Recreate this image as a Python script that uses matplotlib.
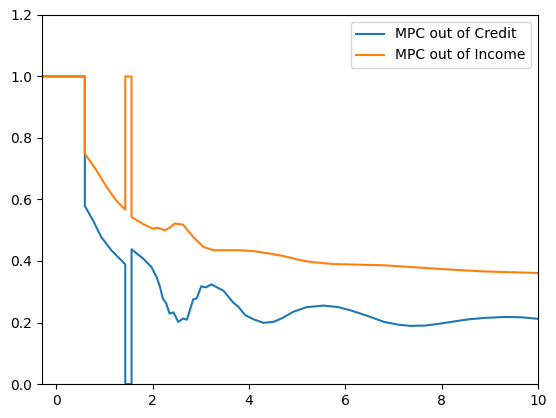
import matplotlib
matplotlib.use("Agg")
import matplotlib.pyplot as plt

# MPC out of credit (blue)
credit_x = [-0.3, 0.59, 0.59, 0.76, 0.93, 1.14, 1.43, 1.43, 1.56, 1.56, 1.80, 1.97,
            2.08, 2.15, 2.21, 2.28, 2.35, 2.43, 2.53, 2.63, 2.71, 2.84, 2.91, 3.01,
            3.10, 3.22, 3.47, 3.67, 3.78, 3.92, 4.10, 4.30, 4.51, 4.70, 4.92, 5.20,
            5.55, 5.85, 6.10, 6.45, 6.80, 7.10, 7.35, 7.65, 7.91, 8.20, 8.54, 8.90,
            9.30, 9.65, 10.0]
credit_y = [1.0, 1.0, 0.579, 0.532, 0.478, 0.435, 0.389, 0.0, 0.0, 0.438, 0.408, 0.381,
            0.348, 0.316, 0.278, 0.262, 0.229, 0.233, 0.202, 0.213, 0.209, 0.275, 0.278, 0.318,
            0.314, 0.324, 0.303, 0.265, 0.251, 0.224, 0.210, 0.199, 0.202, 0.215, 0.235, 0.250,
            0.255, 0.250, 0.240, 0.222, 0.202, 0.193, 0.189, 0.190, 0.195, 0.202, 0.210, 0.215,
            0.218, 0.217, 0.212]

# MPC out of income (orange)
income_x = [-0.3, 0.59, 0.59, 0.83, 1.04, 1.24, 1.43, 1.43, 1.56, 1.56, 1.80, 2.00,
            2.10, 2.25, 2.35, 2.46, 2.63, 2.84, 3.05, 3.26, 3.53, 3.81, 4.09, 4.44,
            4.72, 5.00, 5.27, 5.76, 6.30, 6.80, 7.49, 8.19, 8.88, 10.0]
income_y = [1.0, 1.0, 0.749, 0.695, 0.641, 0.597, 0.567, 1.0, 1.0, 0.543, 0.520, 0.505,
            0.508, 0.500, 0.508, 0.522, 0.518, 0.478, 0.446, 0.435, 0.435, 0.435, 0.432, 0.424,
            0.416, 0.405, 0.397, 0.390, 0.388, 0.386, 0.379, 0.372, 0.366, 0.361]

fig = plt.figure(figsize=(5.56, 4.18), dpi=100)
ax = fig.add_axes([0.0755, 0.0813, 0.892, 0.883])

ax.plot(credit_x, credit_y, label="MPC out of Credit")
ax.plot(income_x, income_y, label="MPC out of Income")

ax.set_xlim(-0.3, 10)
ax.set_ylim(0, 1.2)
ax.legend(loc="upper right")

fig.savefig("out.png", dpi=100)
